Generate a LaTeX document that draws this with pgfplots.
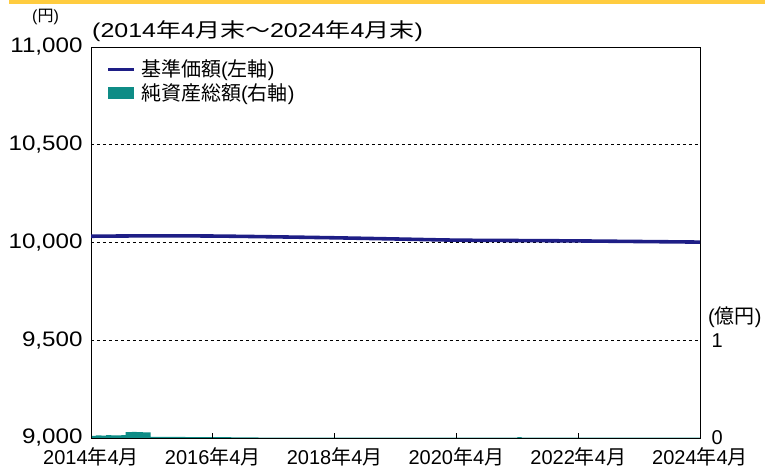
\documentclass[border=0pt]{standalone}
\usepackage{pgfplots}
\pgfplotsset{compat=1.18}
\usepackage{fontspec}
\setmainfont{Liberation Sans}
\newfontfamily\cjk{Noto Sans CJK JP}
\newcommand{\J}[1]{{\cjk #1}}
\newcommand{\Sx}[1]{\scalebox{1.15}[1]{#1}}
\definecolor{navyline}{HTML}{1E1E86}
\definecolor{tealbar}{HTML}{0E8C86}
\definecolor{topbar}{HTML}{FFCC3F}
\newcommand{\fs}{\fontsize{20bp}{24bp}\selectfont}
\newcommand{\fy}{\fontsize{21bp}{25bp}\selectfont}
\begin{document}
\begin{tikzpicture}[x=1bp,y=1bp]
\useasboundingbox (0,0) rectangle (765,469);
\fill[topbar] (9,465) rectangle (765,469);
% right axis: net assets (bars)
\begin{axis}[
  at={(91bp,31bp)}, anchor=south west,
  scale only axis, width=609bp, height=391bp,
  xmin=2014.25, xmax=2024.25,
  ymin=0, ymax=4,
  scaled ticks=false,
  axis x line=none,
  axis y line*=right,
  ytick={0,1}, yticklabels={0,1},
  y axis line style={line width=0.8pt},
  major tick length=0pt,
  tick label style={font=\fs},
  yticklabel style={anchor=west, xshift=8bp},
]
\addplot[fill=tealbar, draw=none, const plot mark left] coordinates {
(2014.25,0.022) (2014.33,0.028) (2014.42,0.025) (2014.50,0.030) (2014.58,0.026)
(2014.67,0.028) (2014.75,0.030) (2014.82,0.060) (2014.92,0.062) (2015.00,0.060)
(2015.10,0.058) (2015.23,0.012) (2015.50,0.011) (2015.80,0.010) (2016.10,0.010)
(2016.55,0.006) (2017.00,0.005) (2018.00,0.004) (2019.00,0.004) (2020.00,0.004)
(2021.20,0.004) (2021.25,0.010) (2021.32,0.004) (2022.00,0.004) (2023.00,0.003)
(2024.25,0.003)
} \closedcycle;
\end{axis}
% left axis: NAV line
\begin{axis}[
  at={(91bp,31bp)}, anchor=south west,
  scale only axis, width=609bp, height=391bp,
  xmin=2014.25, xmax=2024.25,
  ymin=9000, ymax=11000,
  scaled ticks=false,
  axis line style={line width=0.8pt},
  xtick={2014.25,2016.25,2018.25,2020.25,2022.25,2024.25},
  xticklabels={2014\J{年}4\J{月},2016\J{年}4\J{月},2018\J{年}4\J{月},2020\J{年}4\J{月},2022\J{年}4\J{月},2024\J{年}4\J{月}},
  ytick={9000,9500,10000,10500,11000},
  yticklabels={{\Sx{9,000}},{\Sx{9,500}},{\Sx{10,000}},{\Sx{10,500}},{\Sx{11,000}}},
  xtick pos=bottom, ytick pos=left,
  xtick align=inside,
  x tick style={line width=0.8pt, black},
  y tick style={draw=none},
  major tick length=5bp,
  xticklabel style={font=\fs, anchor=base, yshift=-27bp},
  yticklabel style={font=\fy, anchor=east, xshift=-5bp},
  ymajorgrids,
  grid style={dashed, black, line width=0.7pt},
  clip=true,
]
\addplot[navyline, line width=3.6pt, smooth] coordinates {
(2014.25,10032) (2015.25,10034) (2016.25,10033) (2017.25,10029) (2018.25,10024)
(2019.25,10018) (2020.25,10012) (2021.25,10010) (2022.25,10008) (2023.25,10005)
(2024.25,10002)
};
\end{axis}
% titles and legend
\node[anchor=base west, inner sep=0pt, font=\fontsize{16bp}{18bp}\selectfont] at (32,447) {(\J{円})};
\node[anchor=base west, inner sep=0pt, font=\fs] at (92,431) {\scalebox{1.25}[1]{(2014\J{年}4\J{月末〜}2024\J{年}4\J{月末})}};
\node[anchor=base west, inner sep=0pt, font=\fs] at (708,145) {(\J{億円})};
\draw[navyline, line width=3pt] (108,399) -- (134,399);
\fill[tealbar] (108,370) rectangle (134,382);
\node[anchor=west, inner sep=0pt, font=\fs] at (141,399) {\J{基準価額}(\J{左軸})};
\node[anchor=west, inner sep=0pt, font=\fs] at (141,375) {\J{純資産総額}(\J{右軸})};
\end{tikzpicture}
\end{document}
